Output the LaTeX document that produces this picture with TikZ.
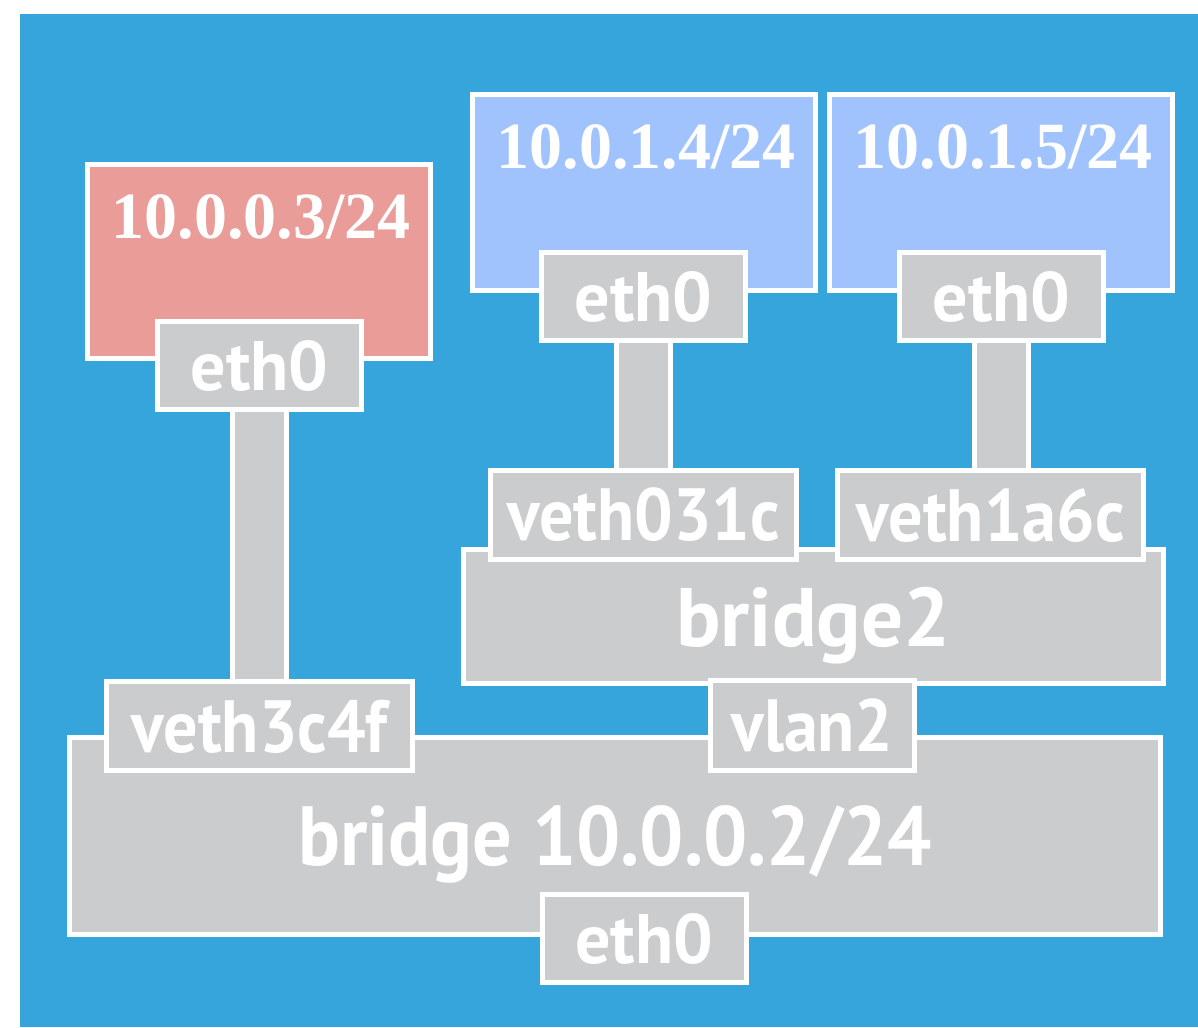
\documentclass[tikz,border=0pt]{standalone}
\usepackage{fontspec}
\newfontfamily\ipfont{Liberation Serif}
\newfontfamily\labfont{PT Sans}
\newfontfamily\labfontn{PT Sans}[FakeStretch=0.92]
\newfontfamily\labfontb{PT Sans}[FakeStretch=0.93]
\definecolor{bgblue}{HTML}{35A5DB}
\definecolor{hostpink}{HTML}{E99C98}
\definecolor{hostblue}{HTML}{A0C3FE}
\definecolor{ifgray}{HTML}{CBCCCE}
\pgfdeclarelayer{bg}
\pgfdeclarelayer{links}
\pgfsetlayers{bg,links,main}
\tikzset{
  box/.style={rectangle, draw=white, line width=5pt, inner sep=0pt, outer sep=0pt, text=white},
  hostpinkbox/.style={box, fill=hostpink, minimum width=343pt, minimum height=194pt},
  hostbluebox/.style={box, fill=hostblue, minimum width=343pt, minimum height=196pt},
  ethbox/.style={box, fill=ifgray, minimum width=204pt, minimum height=88pt, text depth=0pt,
     font=\labfont\bfseries\fontsize{70}{70}\selectfont},
  vethbox/.style={box, fill=ifgray, minimum width=306pt, minimum height=89pt, text depth=0pt,
     font=\labfontn\bfseries\fontsize{74}{74}\selectfont},
  bridgebox/.style={box, fill=ifgray, text depth=0pt,
     font=\labfontb\bfseries\fontsize{84}{84}\selectfont},
  bridgetwobox/.style={box, fill=ifgray, text depth=0pt,
     font=\labfont\bfseries\fontsize{83}{83}\selectfont},
  iplabel/.style={inner sep=0pt, text=white, anchor=base, font=\ipfont\bfseries\fontsize{66}{66}\selectfont},
  link/.style={draw=ifgray, line width=49pt, preaction={draw=white, line width=59pt}}
}
\begin{document}
\begin{tikzpicture}[x=1pt,y=-1pt]
\useasboundingbox (0,0) rectangle (1198,1027);
\begin{pgfonlayer}{bg}
\fill[bgblue] (20,14) rectangle (1198,1027);
\end{pgfonlayer}
% hosts
\node[hostpinkbox] (h1) at (259,261.5) {};
\node[iplabel] (h1ip) at ([xshift=2pt,yshift=-73.5pt]h1.north) {10.0.0.3/24};
\node[hostbluebox] (h2) at (644,192.5) {};
\node[iplabel] (h2ip) at ([xshift=2pt,yshift=-73.5pt]h2.north) {10.0.1.4/24};
\node[hostbluebox] (h3) at (1001,192.5) {};
\node[iplabel] (h3ip) at ([xshift=2pt,yshift=-73.5pt]h3.north) {10.0.1.5/24};
\node[ethbox] (h1e) at (259.5,365.5) {eth0};
\node[ethbox] (h2e) at (643.5,296.5) {eth0};
\node[ethbox] (h3e) at (1001.5,296.5) {eth0};
% bridges
\node[bridgebox, minimum width=1091pt, minimum height=197pt] (br) at (615,836) {bridge 10.0.0.2/24};
\node[bridgetwobox, minimum width=700pt, minimum height=134pt] (br2) at (813.5,616.5) {bridge2};
\node[vethbox] (v1) at (259.5,726) {veth3c4f};
\node[vethbox, minimum width=204pt, minimum height=90pt] (vl) at (812.5,725.5) {vlan2};
\node[ethbox] (be) at (644,938.5) {eth0};
\node[vethbox] (v2) at (643.5,514.5) {veth031c};
\node[vethbox] (v3) at (990.5,515) {veth1a6c};
% links
\begin{pgfonlayer}{links}
\draw[link] (h1e.center) -- (h1e.center |- v1.center);
\draw[link] (h2e.center) -- (h2e.center |- v2.center);
\draw[link] (h3e.center) -- (h3e.center |- v3.center);
\end{pgfonlayer}
\end{tikzpicture}
\end{document}
